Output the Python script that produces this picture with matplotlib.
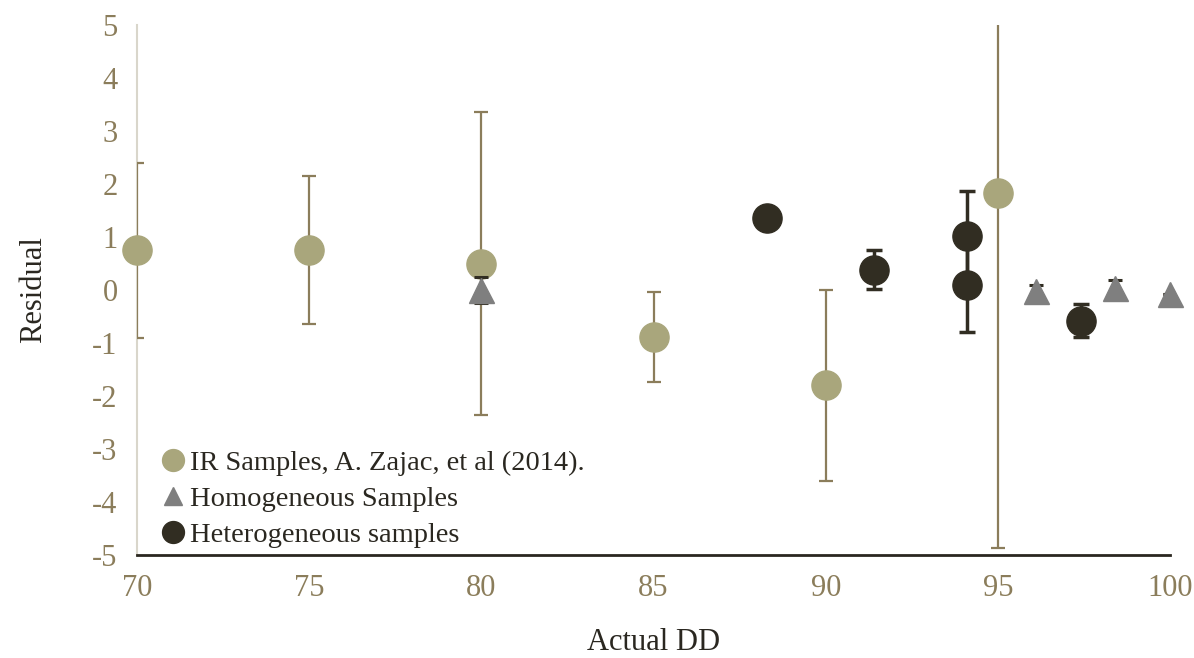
import numpy as np
import matplotlib.pyplot as plt

plt.rcParams['font.family'] = ['Liberation Serif', 'DejaVu Serif']
plt.rcParams['axes.unicode_minus'] = False

# IR samples (Zajac et al. 2014)
ir_x = [70, 75, 80, 85, 90, 95]
ir_y = [0.75, 0.75, 0.50, -0.89, -1.80, 1.83]
ir_err = [1.65, 1.40, 2.86, 0.85, 1.80, 6.70]

# homogeneous samples
homo_x = [80.0, 96.1, 98.4, 100.0]
homo_y = [0.0, -0.02, 0.04, -0.08]
homo_err = [0.25, 0.12, 0.15, 0.0]

# heterogeneous samples
het_x = [88.3, 91.4, 94.1, 94.1, 97.4]
het_y = [1.36, 0.38, 1.02, 0.10, -0.58]
het_err = [0.0, 0.37, 0.85, 0.89, 0.31]

x_ticks = [70, 75, 80, 85, 90, 95, 100]
y_ticks = [-5, -4, -3, -2, -1, 0, 1, 2, 3, 4, 5]

tan = '#A9A67C'
tan_dark = '#8B7D5B'
grey = '#7F7F7F'
dark = '#312D22'

fig = plt.figure(figsize=(11.94, 6.58), dpi=100)
ax = fig.add_axes([0.1147, 0.1565, 0.8653, 0.8055])

e1 = ax.errorbar(ir_x, ir_y, yerr=ir_err, fmt='o', color=tan, mec=tan, ecolor=tan_dark,
                 elinewidth=1.6, capsize=5, capthick=1.6, markersize=21,
                 label='IR Samples, A. Zajac, et al (2014).', zorder=3)
e2 = ax.errorbar(homo_x, homo_y, yerr=homo_err, fmt='^', color=grey, mec=grey, ecolor=dark,
                 elinewidth=2.2, capsize=5, capthick=2.2, markersize=18,
                 label='Homogeneous Samples', zorder=4)
e3 = ax.errorbar(het_x, het_y, yerr=het_err, fmt='o', color=dark, mec=dark, ecolor=dark,
                 elinewidth=2.5, capsize=6, capthick=2.5, markersize=21,
                 label='Heterogeneous samples', zorder=5)
for e in (e1, e2, e3):
    e[0].set_clip_on(False)

ax.set_xlim(70, 100)
ax.set_ylim(-5, 5)
ax.set_xticks(x_ticks)
ax.set_yticks(y_ticks)
ax.tick_params(length=0, labelsize=22, colors=tan_dark, pad=14)

for s in ['top', 'right']:
    ax.spines[s].set_visible(False)
ax.spines['left'].set_color('#D9D6CB')
ax.spines['left'].set_linewidth(1.5)
ax.spines['bottom'].set_color('#2A2720')
ax.spines['bottom'].set_linewidth(2)

ax.set_xlabel('Actual DD', fontsize=22, color='#2A2720', labelpad=18)
ax.set_ylabel('Residual', fontsize=22, color='#2A2720', labelpad=32)

handles, labels = ax.get_legend_handles_labels()
handles = [h[0] for h in handles]
leg = ax.legend(handles, labels, loc='lower left', bbox_to_anchor=(0.0, -0.035),
                frameon=False, fontsize=20.5, handlelength=0.7, handletextpad=0.25,
                labelspacing=0.35, markerscale=0.75, labelcolor='#2A2720')

fig.savefig('out.png', dpi=100)
